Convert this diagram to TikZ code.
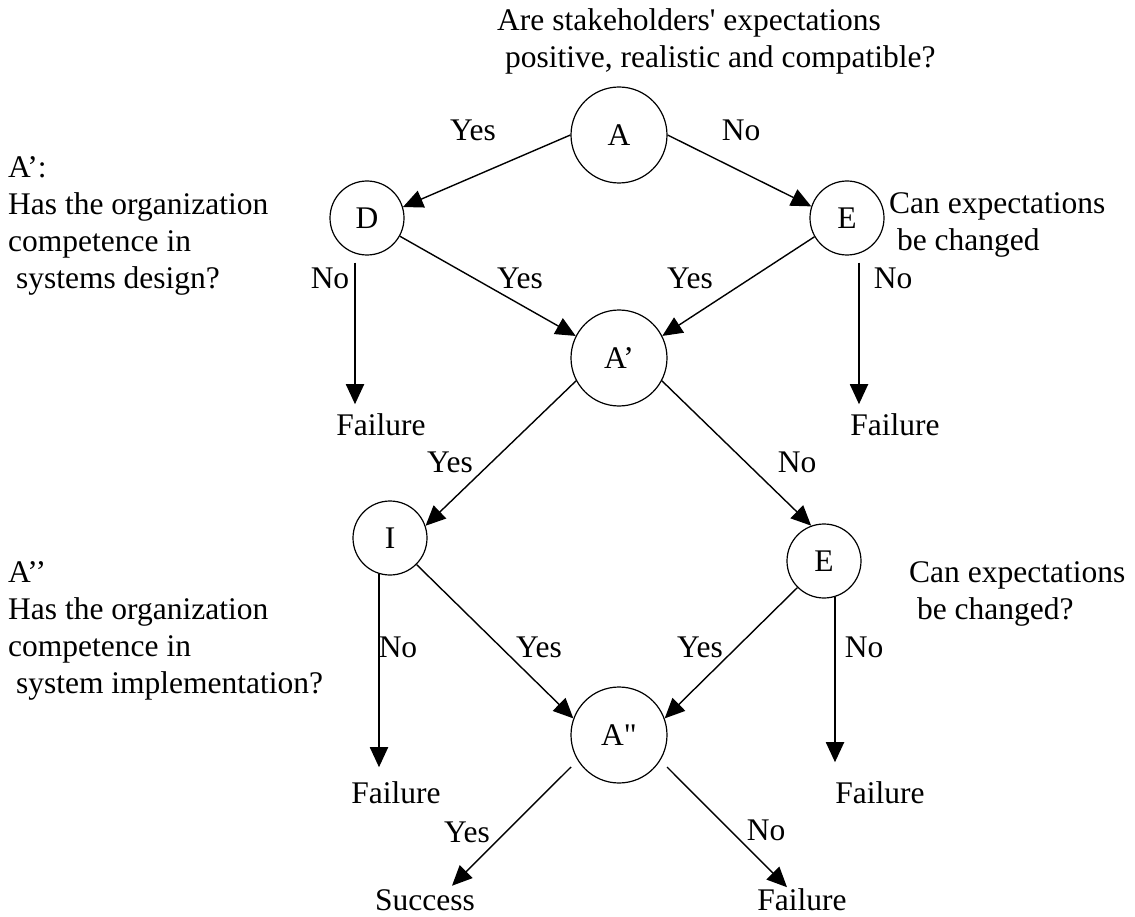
\documentclass[tikz,border=0pt]{standalone}
\usepackage{fontspec}
\setmainfont{Liberation Serif}
\usetikzlibrary{arrows.meta}
\begin{document}
\begin{tikzpicture}[x=1pt,y=-1pt,
  every node/.style={font=\fontsize{31.5}{37}\selectfont, inner sep=0pt},
  bigq/.style={circle, draw, line width=1.2pt, minimum size=96pt},
  smallq/.style={circle, draw, line width=1.2pt, minimum size=74pt},
  note/.style={align=left, anchor=north west},
  arr/.style={line width=1.4pt, -{Triangle[length=20pt,width=18pt]}},
  varr/.style={arr, line width=1.9pt},
]
\useasboundingbox (0,0) rectangle (1135,917);

% decision points
\node[bigq]   (A)   at (619,135) {A};
\node[smallq] (D)   at (367,218) {D};
\node[smallq] (E1)  at (847,218) {E};
\node[bigq]   (Ap)  at (619,358) {A’};
\node[smallq] (I)   at (390,538) {I};
\node[smallq] (E2)  at (824,561) {E};
\node[bigq]   (App) at (619,735) {A\textquotedbl};

% outcomes
\node (F1) at (381,425) {Failure};
\node (F2) at (895,425) {Failure};
\node (F3) at (396,793) {Failure};
\node (F4) at (880,793) {Failure};
\node (S)  at (425,900) {Success};
\node (F5) at (802,900) {Failure};

% questions
\node[note] (qA)   at (497,8)   {Are stakeholders\textquotesingle{} expectations\\\hspace*{0.25em}positive, realistic and compatible?};
\node[note] (qAp)  at (8,156)   {A’:\\Has the organization\\competence in\\\hspace*{0.25em}systems design?};
\node[note] (qApp) at (8,561)   {A’’\\Has the organization\\competence in\\\hspace*{0.25em}system implementation?};
\node[note] (qE1)  at (889,192) {Can expectations\\\hspace*{0.25em}be changed};
\node[note] (qE2)  at (909,561) {Can expectations\\\hspace*{0.25em}be changed?};

% answers on the branches
\node (y1)  at (473,130) {Yes};
\node (n1)  at (741,130) {No};
\node (n2)  at (330,278) {No};
\node (y2)  at (520,278) {Yes};
\node (y3)  at (690,278) {Yes};
\node (n3)  at (893,278) {No};
\node (y4)  at (450,462) {Yes};
\node (n4)  at (797,462) {No};
\node (n5)  at (398,647) {No};
\node (y5)  at (539,647) {Yes};
\node (y6)  at (700,647) {Yes};
\node (n6)  at (864,647) {No};
\node (y7)  at (467,832) {Yes};
\node (n7)  at (766,830) {No};

% branches
\draw[arr] (A.180) -- (D.17);
\draw[arr] (A.0) -- (E1.162);
\draw[arr] (D.-29) -- (Ap.153);
\draw[arr] (E1.210) -- (Ap.27);
\draw[varr] ([shift={(-12pt,-7pt)}]D.south) -- ([shift={(-26pt,9.5pt)}]F1.north);
\draw[varr] ([shift={(12pt,-7pt)}]E1.south) -- ([shift={(-36pt,9.5pt)}]F2.north);

\draw[arr] (Ap.208) -- (I.19);
\draw[arr] (Ap.-28) -- (E2.110);
\draw[arr] (I.-45) -- (App.160);
\draw[arr] (E2.225) -- (App.20);
\draw[varr] (I.-107) -- ([shift={(-17pt,14.5pt)}]F3.north);
\draw[varr] (E2.-73) -- ([shift={(-45pt,19.5pt)}]F4.north);

\draw[arr] ([shift={(-48pt,-32pt)}]App.center) -- ([shift={(27pt,3.5pt)}]S.north);
\draw[arr] ([shift={(48pt,-32pt)}]App.center) -- ([shift={(-15pt,1.5pt)}]F5.north);
\end{tikzpicture}
\end{document}
